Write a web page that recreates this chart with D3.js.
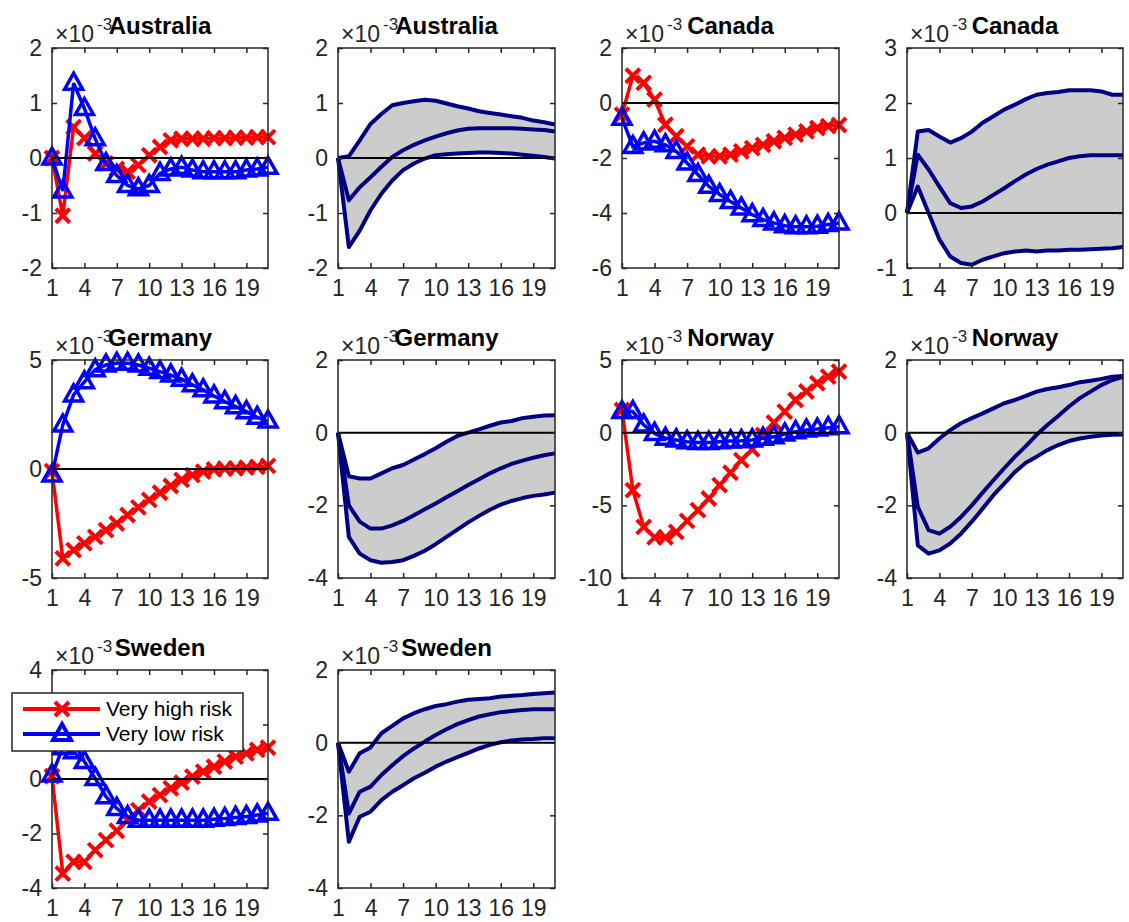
<!DOCTYPE html>
<html>
<head>
<meta charset="utf-8">
<script src="https://cdn.jsdelivr.net/npm/d3@7"></script>
<style>
body { margin: 0; background: #fff; }
text { font-family: "Liberation Sans", Arial, sans-serif; }
</style>
</head>
<body>
<div id="chart"></div>
<script>
// horizon (periods 1..21) and tick labels
var periods = d3.range(1, 22);
var xTicks = [1, 4, 7, 10, 13, 16, 19];

// all values are in units of 1e-3
// Australia
var ausHigh = [0.0, -1.05, 0.56, 0.36, 0.08, -0.1, -0.2, -0.25, -0.13, 0.05, 0.2, 0.32, 0.35, 0.35, 0.35, 0.36, 0.36, 0.37, 0.37, 0.38, 0.38];
var ausLow = [0.0, -0.6, 1.36, 0.9, 0.35, -0.1, -0.32, -0.5, -0.56, -0.5, -0.28, -0.2, -0.17, -0.22, -0.25, -0.25, -0.25, -0.25, -0.22, -0.2, -0.17];
var ausUpper = [0, 0.03, 0.32, 0.62, 0.8, 0.96, 1.0, 1.03, 1.06, 1.04, 0.99, 0.94, 0.9, 0.85, 0.82, 0.79, 0.76, 0.73, 0.68, 0.65, 0.61];
var ausMedian = [0, -0.77, -0.53, -0.35, -0.16, 0.02, 0.14, 0.24, 0.32, 0.39, 0.45, 0.5, 0.53, 0.54, 0.54, 0.54, 0.54, 0.53, 0.52, 0.51, 0.48];
var ausLower = [0, -1.62, -1.32, -0.95, -0.65, -0.41, -0.22, -0.1, -0.01, 0.05, 0.07, 0.08, 0.09, 0.1, 0.1, 0.09, 0.08, 0.06, 0.04, 0.02, -0.01];

// Canada
var canHigh = [-0.42, 0.99, 0.73, 0.12, -0.79, -1.21, -1.58, -1.88, -1.94, -1.94, -1.88, -1.76, -1.64, -1.52, -1.39, -1.27, -1.15, -1.03, -0.91, -0.84, -0.8];
var canLow = [-0.55, -1.58, -1.45, -1.39, -1.52, -1.76, -2.18, -2.6, -3.03, -3.33, -3.58, -3.82, -4.06, -4.24, -4.36, -4.46, -4.5, -4.5, -4.48, -4.42, -4.36];
var canUpper = [0, 1.48, 1.51, 1.39, 1.28, 1.36, 1.48, 1.64, 1.76, 1.88, 1.97, 2.07, 2.15, 2.18, 2.2, 2.23, 2.23, 2.23, 2.21, 2.15, 2.15];
var canMedian = [0, 1.06, 0.79, 0.48, 0.18, 0.09, 0.12, 0.21, 0.33, 0.45, 0.58, 0.7, 0.8, 0.88, 0.94, 1.0, 1.03, 1.05, 1.05, 1.05, 1.05];
var canLower = [0, 0.48, 0.0, -0.48, -0.79, -0.91, -0.94, -0.85, -0.79, -0.73, -0.7, -0.68, -0.7, -0.68, -0.68, -0.67, -0.67, -0.66, -0.65, -0.64, -0.62];

// Germany
var gerHigh = [-0.1, -4.1, -3.72, -3.41, -3.11, -2.8, -2.5, -2.11, -1.76, -1.42, -1.09, -0.78, -0.5, -0.28, -0.12, -0.02, 0.02, 0.03, 0.06, 0.1, 0.14];
var gerLow = [-0.28, 2.02, 3.4, 4.0, 4.55, 4.77, 4.85, 4.85, 4.77, 4.62, 4.47, 4.31, 4.12, 3.86, 3.63, 3.35, 3.09, 2.86, 2.63, 2.37, 2.2];
var gerUpper = [0, -1.2, -1.26, -1.26, -1.12, -0.98, -0.89, -0.74, -0.59, -0.43, -0.25, -0.09, 0, 0.09, 0.19, 0.28, 0.32, 0.4, 0.44, 0.47, 0.48];
var gerMedian = [0, -2.0, -2.45, -2.64, -2.64, -2.55, -2.43, -2.27, -2.11, -1.95, -1.78, -1.61, -1.44, -1.28, -1.12, -0.98, -0.86, -0.77, -0.69, -0.62, -0.57];
var gerLower = [0, -2.87, -3.33, -3.51, -3.58, -3.56, -3.51, -3.39, -3.25, -3.07, -2.87, -2.67, -2.47, -2.29, -2.12, -1.98, -1.88, -1.8, -1.74, -1.7, -1.65];

// Norway
var norHigh = [1.56, -3.95, -6.48, -7.2, -7.2, -6.83, -6.07, -5.33, -4.53, -3.61, -2.76, -1.89, -1.15, -0.16, 0.69, 1.45, 2.25, 2.83, 3.4, 3.86, 4.2];
var norLow = [1.45, 1.45, 0.53, -0.05, -0.39, -0.5, -0.62, -0.67, -0.67, -0.62, -0.57, -0.55, -0.5, -0.39, -0.28, -0.09, 0.07, 0.18, 0.25, 0.34, 0.41];
var norUpper = [0, -0.55, -0.43, -0.16, 0.07, 0.26, 0.4, 0.53, 0.67, 0.81, 0.9, 1.01, 1.13, 1.2, 1.25, 1.31, 1.39, 1.43, 1.48, 1.54, 1.56];
var norMedian = [0, -2.04, -2.68, -2.78, -2.59, -2.32, -2.0, -1.65, -1.31, -0.98, -0.66, -0.37, -0.06, 0.21, 0.46, 0.72, 0.95, 1.13, 1.31, 1.45, 1.54];
var norLower = [0, -3.1, -3.33, -3.24, -3.05, -2.78, -2.45, -2.09, -1.72, -1.4, -1.08, -0.83, -0.66, -0.48, -0.34, -0.23, -0.16, -0.11, -0.08, -0.06, -0.05];

// Sweden
var sweHigh = [0.1, -3.47, -3.04, -3.04, -2.61, -2.24, -1.9, -1.51, -1.14, -0.83, -0.59, -0.34, -0.13, 0.09, 0.27, 0.45, 0.64, 0.82, 0.94, 1.07, 1.15];
var sweLow = [0.15, 1.15, 1.0, 0.64, 0.02, -0.65, -1.08, -1.38, -1.51, -1.51, -1.51, -1.51, -1.51, -1.51, -1.51, -1.48, -1.45, -1.41, -1.38, -1.32, -1.26];
var sweUpper = [0, -0.8, -0.29, -0.13, 0.26, 0.46, 0.67, 0.81, 0.92, 1.01, 1.06, 1.13, 1.18, 1.2, 1.22, 1.27, 1.29, 1.31, 1.34, 1.36, 1.38];
var sweMedian = [0, -1.95, -1.35, -1.21, -0.89, -0.62, -0.37, -0.16, 0.03, 0.21, 0.37, 0.51, 0.62, 0.72, 0.78, 0.84, 0.87, 0.9, 0.92, 0.92, 0.92];
var sweLower = [0, -2.73, -2.04, -1.9, -1.58, -1.35, -1.17, -0.98, -0.83, -0.66, -0.52, -0.4, -0.28, -0.16, -0.06, 0.01, 0.06, 0.09, 0.1, 0.12, 0.12];

var seriesNames = ["Very high risk", "Very low risk"];

// panel grid (pixel boxes of the axes)
var cols = [[52, 268], [338, 555], [622, 839], [907, 1123]];
var rows = [[48, 268], [360, 578], [670, 888]];

var panels = [
    { title: "Australia", kind: "lines", high: ausHigh, low: ausLow, yDomain: [-2, 2], yTicks: [-2, -1, 0, 1, 2], r: 0, c: 0 },
    { title: "Australia", kind: "band", upper: ausUpper, median: ausMedian, lower: ausLower, yDomain: [-2, 2], yTicks: [-2, -1, 0, 1, 2], r: 0, c: 1 },
    { title: "Canada", kind: "lines", high: canHigh, low: canLow, yDomain: [-6, 2], yTicks: [-6, -4, -2, 0, 2], r: 0, c: 2 },
    { title: "Canada", kind: "band", upper: canUpper, median: canMedian, lower: canLower, yDomain: [-1, 3], yTicks: [-1, 0, 1, 2, 3], r: 0, c: 3 },
    { title: "Germany", kind: "lines", high: gerHigh, low: gerLow, yDomain: [-5, 5], yTicks: [-5, 0, 5], r: 1, c: 0 },
    { title: "Germany", kind: "band", upper: gerUpper, median: gerMedian, lower: gerLower, yDomain: [-4, 2], yTicks: [-4, -2, 0, 2], r: 1, c: 1 },
    { title: "Norway", kind: "lines", high: norHigh, low: norLow, yDomain: [-10, 5], yTicks: [-10, -5, 0, 5], r: 1, c: 2 },
    { title: "Norway", kind: "band", upper: norUpper, median: norMedian, lower: norLower, yDomain: [-4, 2], yTicks: [-4, -2, 0, 2], r: 1, c: 3 },
    { title: "Sweden", kind: "lines", high: sweHigh, low: sweLow, yDomain: [-4, 4], yTicks: [-4, -2, 0, 2, 4], r: 2, c: 0, legend: true },
    { title: "Sweden", kind: "band", upper: sweUpper, median: sweMedian, lower: sweLower, yDomain: [-4, 2], yTicks: [-4, -2, 0, 2], r: 2, c: 1 }
];

var axisColor = "#262626";
var crossPath = "M-7,-7L7,7M7,-7L-7,7";
var triPath = "M0,-10L9,6L-9,6Z";
// plain hyphen minus, no decimals (as in the original)
var tickFmt = function(d) { return String(d); };

var svg = d3.select("#chart")
    .append("svg")
    .attr("width", 1129)
    .attr("height", 922);

panels.forEach(function(p) {
    var left = cols[p.c][0], right = cols[p.c][1];
    var top = rows[p.r][0], bottom = rows[p.r][1];

    var x = d3.scaleLinear().domain([1, 21]).range([left, right]);
    var y = d3.scaleLinear().domain(p.yDomain).range([bottom, top]);

    var g = svg.append("g");

    var line = function(vals) {
        return d3.line()
            .x(function(d, i) { return x(periods[i]); })
            .y(function(d) { return y(d); })(vals);
    };

    if (p.kind === "band") {
        // shaded band between upper and lower
        var area = d3.area()
            .x(function(d, i) { return x(periods[i]); })
            .y0(function(d, i) { return y(p.lower[i]); })
            .y1(function(d) { return y(d); });
        g.append("path")
            .attr("d", area(p.upper))
            .attr("fill", "#cccccc");
        [p.upper, p.median, p.lower].forEach(function(vals) {
            g.append("path")
                .attr("d", line(vals))
                .attr("fill", "none")
                .attr("stroke", "#000080")
                .attr("stroke-width", 4)
                .attr("stroke-linejoin", "round");
        });
    } else {
        // red = very high risk, blue = very low risk
        g.append("path")
            .attr("d", line(p.high))
            .attr("fill", "none")
            .attr("stroke", "#ff0000")
            .attr("stroke-width", 3.5);
        g.selectAll(".mx")
            .data(p.high)
            .enter()
            .append("path")
            .attr("transform", function(d, i) { return "translate(" + x(periods[i]) + "," + y(d) + ")"; })
            .attr("d", crossPath)
            .attr("fill", "none")
            .attr("stroke", "#ff0000")
            .attr("stroke-width", 4);

        g.append("path")
            .attr("d", line(p.low))
            .attr("fill", "none")
            .attr("stroke", "#0000ff")
            .attr("stroke-width", 3.5);
        g.selectAll(".mt")
            .data(p.low)
            .enter()
            .append("path")
            .attr("transform", function(d, i) { return "translate(" + x(periods[i]) + "," + y(d) + ")"; })
            .attr("d", triPath)
            .attr("fill", "none")
            .attr("stroke", "#0000ff")
            .attr("stroke-width", 3.5);
    }

    // zero line
    g.append("line")
        .attr("x1", left).attr("x2", right)
        .attr("y1", y(0)).attr("y2", y(0))
        .attr("stroke", "#000")
        .attr("stroke-width", 2);

    // box
    g.append("rect")
        .attr("x", left).attr("y", top)
        .attr("width", right - left).attr("height", bottom - top)
        .attr("fill", "none")
        .attr("stroke", axisColor)
        .attr("stroke-width", 1.5);

    // axes, ticks pointing inward
    var xb = g.append("g")
        .attr("transform", "translate(0," + bottom + ")")
        .call(d3.axisBottom(x).tickValues(xTicks).tickFormat(tickFmt).tickSizeInner(-5).tickSizeOuter(0).tickPadding(12));
    var xt = g.append("g")
        .attr("transform", "translate(0," + top + ")")
        .call(d3.axisTop(x).tickValues(xTicks).tickSizeInner(-5).tickSizeOuter(0).tickFormat(""));
    var yl = g.append("g")
        .attr("transform", "translate(" + left + ",0)")
        .call(d3.axisLeft(y).tickValues(p.yTicks).tickFormat(tickFmt).tickSizeInner(-5).tickSizeOuter(0).tickPadding(10));
    var yr = g.append("g")
        .attr("transform", "translate(" + right + ",0)")
        .call(d3.axisRight(y).tickValues(p.yTicks).tickSizeInner(-5).tickSizeOuter(0).tickFormat(""));

    [xb, xt, yl, yr].forEach(function(a) {
        a.select(".domain").remove();
        a.selectAll("line").attr("stroke", axisColor).attr("stroke-width", 1.5);
        a.selectAll("text")
            .attr("fill", axisColor)
            .style("font-size", "23px")
            .style("font-family", "Liberation Sans, Arial, sans-serif");
    });

    // exponent label
    g.append("text")
        .attr("x", left + 3)
        .attr("y", top - 6)
        .attr("fill", axisColor)
        .style("font-size", "23px")
        .text("\u00d710");
    g.append("text")
        .attr("x", left + 45)
        .attr("y", top - 18)
        .attr("fill", axisColor)
        .style("font-size", "17px")
        .text("-3");

    // title
    g.append("text")
        .attr("x", (left + right) / 2)
        .attr("y", top - 14)
        .attr("text-anchor", "middle")
        .style("font-size", "24px")
        .style("font-weight", "bold")
        .attr("fill", "#000")
        .text(p.title);

    if (p.legend) {
        var lg = svg.append("g");
        lg.append("rect")
            .attr("x", 12).attr("y", 693)
            .attr("width", 231).attr("height", 58)
            .attr("fill", "#fff")
            .attr("stroke", axisColor)
            .attr("stroke-width", 1.5);
        var items = [
            { name: seriesNames[0], color: "#ff0000", marker: crossPath, yy: 709 },
            { name: seriesNames[1], color: "#0000ff", marker: triPath, yy: 734 }
        ];
        items.forEach(function(it) {
            lg.append("line")
                .attr("x1", 23).attr("x2", 100)
                .attr("y1", it.yy).attr("y2", it.yy)
                .attr("stroke", it.color)
                .attr("stroke-width", 4);
            lg.append("path")
                .attr("transform", "translate(62," + it.yy + ")")
                .attr("d", it.marker)
                .attr("fill", "none")
                .attr("stroke", it.color)
                .attr("stroke-width", 4);
            lg.append("text")
                .attr("x", 106)
                .attr("y", it.yy + 7)
                .style("font-size", "21px")
                .attr("fill", "#000")
                .text(it.name);
        });
    }
});
</script>
</body>
</html>
